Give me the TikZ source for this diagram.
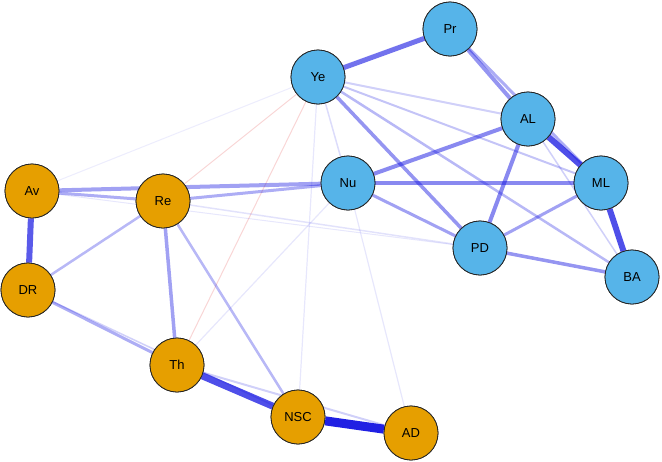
\documentclass[tikz,border=0pt]{standalone}
\usepackage{fontspec}
\setmainfont{Liberation Sans}
\definecolor{eb}{RGB}{20,20,225}
\definecolor{er}{RGB}{230,90,90}
\definecolor{nb}{RGB}{86,180,233}
\definecolor{no}{RGB}{230,159,0}
\begin{document}
\begin{tikzpicture}[x=1pt,y=-1pt,
  nd/.style={circle,draw=black!85,line width=0.8pt,minimum size=54pt,inner sep=0pt,font=\fontsize{13}{13}\selectfont},
  bn/.style={nd,fill=nb},
  on/.style={nd,fill=no},
  ed/.style n args={2}{draw=eb,line width=#1pt,draw opacity=#2},
  er/.style={draw=er,line width=1pt,draw opacity=0.25}]
\useasboundingbox (0,0) rectangle (662,461);
\coordinate (pPr) at (450,29);
\begin{scope}[every node/.style={}]
\node[bn] (Pr) at (450,29) {Pr};
\node[bn] (Ye) at (318,77) {Ye};
\node[bn] (AL) at (528,119) {AL};
\node[bn] (Nu) at (348,183) {Nu};
\node[bn] (ML) at (601,183) {ML};
\node[bn] (PD) at (480,248) {PD};
\node[bn] (BA) at (632,277) {BA};
\node[on] (Av) at (32,191) {Av};
\node[on] (Re) at (163,201) {Re};
\node[on] (DR) at (28,290) {DR};
\node[on] (Th) at (177,365) {Th};
\node[on] (NSC) at (298,417) {NSC};
\node[on] (AD) at (411,433) {AD};
\end{scope}
\begin{scope}[on background layer/.style={}]
\end{scope}
\begin{pgfonlayer}{main}\end{pgfonlayer}
% edges drawn behind nodes: redraw nodes afterwards
\begin{scope}
\path[er] (Ye) -- (Re);
\path[er] (Ye) -- (Th);
\path[ed={1}{0.08}] (Ye) -- (Av);
\path[ed={1.2}{0.1}] (Ye) -- (NSC);
\path[ed={1.2}{0.1}] (Nu) -- (AD);
\path[ed={1.2}{0.1}] (Nu) -- (Th);
\path[ed={1.5}{0.15}] (Ye) -- (Nu);
\path[ed={2}{0.2}] (Ye) -- (AL);
\path[ed={2}{0.25}] (Ye) -- (ML);
\path[ed={2.5}{0.3}] (Ye) -- (BA);
\path[ed={3.5}{0.45}] (Ye) -- (PD);
\path[ed={5}{0.6}] (Ye) -- (Pr);
\path[ed={4}{0.45}] (Pr) -- (AL);
\path[ed={3}{0.35}] (Pr) -- (ML);
\path[ed={6}{0.75}] (AL) -- (ML);
\path[ed={6}{0.75}] (ML) -- (BA);
\path[ed={4}{0.5}] (AL) -- (Nu);
\path[ed={4}{0.5}] (AL) -- (PD);
\path[ed={1.5}{0.2}] (AL) -- (BA);
\path[ed={4}{0.5}] (Nu) -- (ML);
\path[ed={3}{0.4}] (Nu) -- (PD);
\path[ed={3}{0.4}] (ML) -- (PD);
\path[ed={3.5}{0.45}] (PD) -- (BA);
\path[ed={1.5}{0.12}] (Re) -- (PD);
\path[ed={1}{0.1}] (Av) -- (PD);
\path[ed={4}{0.4}] (Av) -- (Nu);
\path[ed={3}{0.35}] (Re) -- (Nu);
\path[ed={3}{0.35}] (Av) -- (Re);
\path[ed={6}{0.7}] (Av) -- (DR);
\path[ed={2.5}{0.3}] (Re) -- (DR);
\path[ed={3.5}{0.4}] (Re) -- (Th);
\path[ed={2.5}{0.3}] (Re) -- (NSC);
\path[ed={3}{0.35}] (DR) -- (Th);
\path[ed={1.5}{0.2}] (DR) -- (NSC);
\path[ed={2}{0.2}] (Th) -- (AD);
\path[ed={7}{0.75}] (Th) -- (NSC);
\path[ed={9}{0.95}] (NSC) -- (AD);
\end{scope}
\foreach \n/\t/\s/\x/\y in {Pr/Pr/bn/450/29,Ye/Ye/bn/318/77,AL/AL/bn/528/119,Nu/Nu/bn/348/183,ML/ML/bn/601/183,PD/PD/bn/480/248,BA/BA/bn/632/277,Av/Av/on/32/191,Re/Re/on/163/201,DR/DR/on/28/290,Th/Th/on/177/365,NSC/NSC/on/298/417,AD/AD/on/411/433}
  \node[\s] (\n2) at (\x,\y) {\t};
\end{tikzpicture}
\end{document}
